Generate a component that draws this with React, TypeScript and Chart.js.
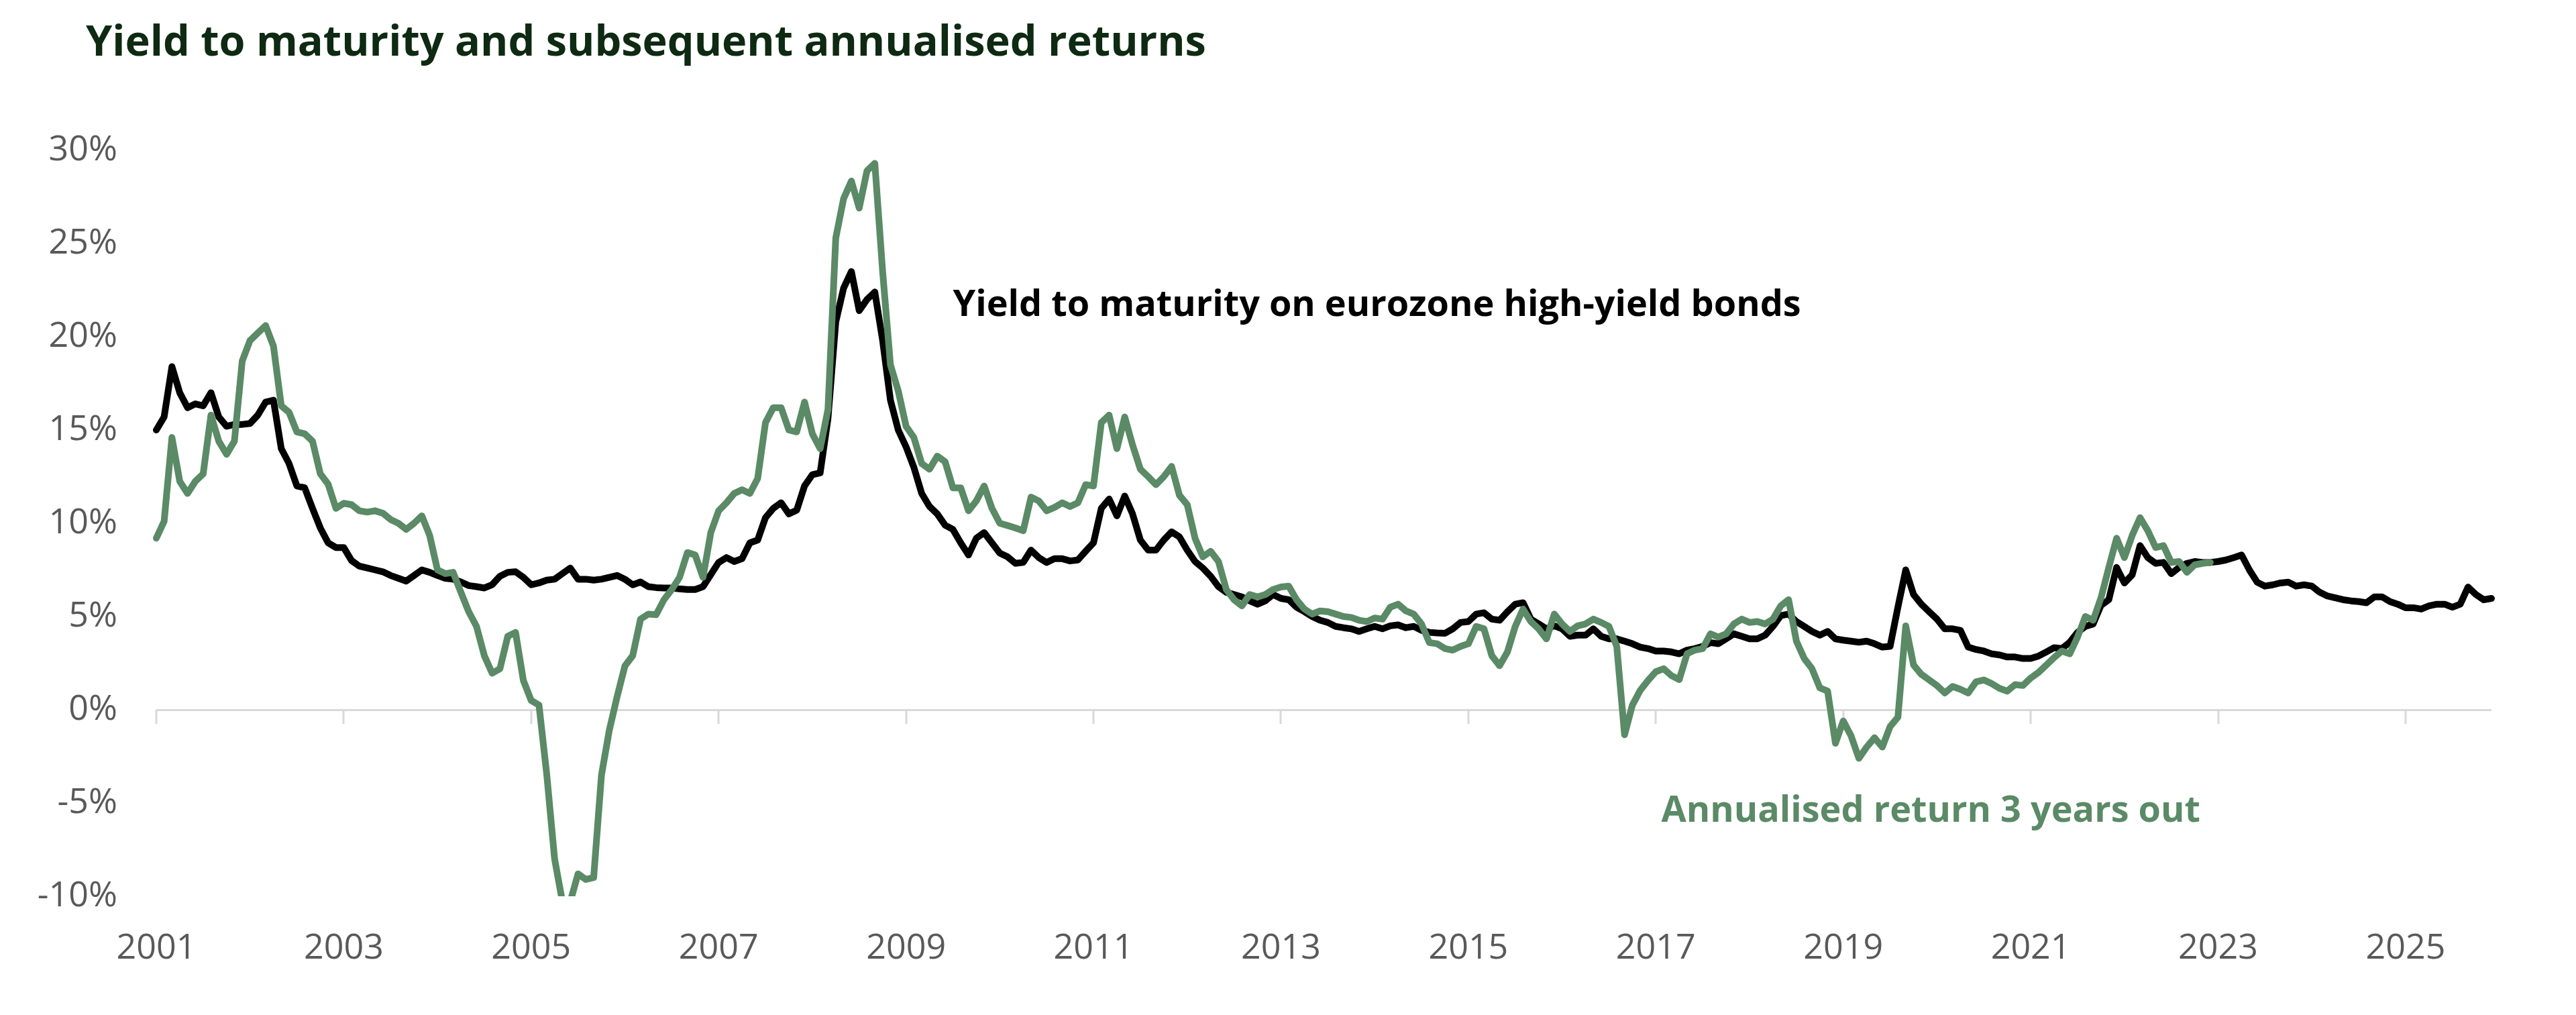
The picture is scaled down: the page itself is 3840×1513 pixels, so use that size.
import React, { useEffect, useRef } from "react";
import { Chart, registerables } from "chart.js";

Chart.register(...registerables);

// Monthly observations, January 2001 onwards
const START_YEAR = 2001;
const MONTH_COUNT = 300;

// Yield to maturity on eurozone high-yield bonds (%), Jan 2001 - Dec 2025
const yieldToMaturity = [
  15.0, 15.7, 18.4, 17.0, 16.2, 16.4, 16.3, 17.0, 15.7, 15.2,
  15.3, 15.3, 15.35, 15.8, 16.5, 16.6, 14.0, 13.2, 12.0, 11.9,
  10.8, 9.75, 8.95, 8.7, 8.7, 8.0, 7.7, 7.6, 7.5, 7.4,
  7.2, 7.05, 6.9, 7.2, 7.5, 7.37, 7.2, 7.05, 7.0, 6.85,
  6.66, 6.6, 6.53, 6.7, 7.16, 7.37, 7.4, 7.1, 6.7, 6.8,
  6.95, 7.0, 7.3, 7.6, 7.0, 7.0, 6.95, 7.0, 7.1, 7.2,
  7.0, 6.7, 6.85, 6.6, 6.55, 6.53, 6.53, 6.48, 6.45, 6.45,
  6.6, 7.25, 7.9, 8.16, 7.95, 8.1, 8.95, 9.1, 10.3, 10.8,
  11.1, 10.5, 10.7, 12.0, 12.6, 12.7, 15.6, 20.8, 22.6, 23.5,
  21.4, 22.0, 22.4, 19.8, 16.6, 15.0, 14.1, 13.0, 11.6, 10.9,
  10.5, 9.9, 9.67, 8.95, 8.3, 9.2, 9.5, 8.95, 8.4, 8.2,
  7.85, 7.9, 8.56, 8.16, 7.9, 8.1, 8.1, 7.98, 8.03, 8.5,
  8.95, 10.8, 11.3, 10.4, 11.46, 10.5, 9.1, 8.56, 8.56, 9.1,
  9.54, 9.27, 8.56, 7.95, 7.6, 7.16, 6.6, 6.3, 6.18, 6.05,
  5.84, 5.66, 5.84, 6.18, 5.97, 5.9, 5.5, 5.26, 5.0, 4.8,
  4.68, 4.47, 4.4, 4.34, 4.2, 4.34, 4.47, 4.34, 4.5, 4.55,
  4.4, 4.47, 4.26, 4.15, 4.12, 4.1, 4.34, 4.68, 4.73, 5.13,
  5.2, 4.86, 4.8, 5.26, 5.66, 5.74, 4.86, 4.6, 4.34, 4.5,
  4.34, 3.94, 4.0, 4.0, 4.34, 3.94, 3.8, 3.8, 3.68, 3.54,
  3.36, 3.28, 3.15, 3.15, 3.1, 3.0, 3.2, 3.28, 3.4, 3.6,
  3.54, 3.8, 4.07, 3.94, 3.8, 3.8, 4.0, 4.47, 5.05, 5.13,
  4.73, 4.47, 4.2, 4.0, 4.2, 3.8, 3.73, 3.68, 3.62, 3.68,
  3.54, 3.36, 3.4, 5.5, 7.5, 6.18, 5.66, 5.26, 4.86, 4.34,
  4.34, 4.26, 3.36, 3.23, 3.15, 3.0, 2.94, 2.83, 2.83, 2.75,
  2.75, 2.88, 3.1, 3.33, 3.28, 3.62, 4.15, 4.47, 4.6, 5.6,
  5.9, 7.63, 6.8, 7.24, 8.8, 8.16, 7.85, 7.9, 7.3, 7.63,
  7.85, 7.95, 7.9, 7.9, 7.95, 8.03, 8.16, 8.3, 7.5, 6.84,
  6.63, 6.7, 6.8, 6.84, 6.63, 6.7, 6.63, 6.3, 6.1, 6.0,
  5.9, 5.84, 5.8, 5.74, 6.05, 6.05, 5.8, 5.66, 5.47, 5.47,
  5.4, 5.57, 5.66, 5.66, 5.5, 5.66, 6.58, 6.18, 5.9, 5.97,
];

// Annualised return over the following 3 years (%), Jan 2001 - Dec 2022
const annualisedReturn3y = [
  9.2, 10.1, 14.6, 12.25, 11.6, 12.25, 12.65, 15.8, 14.4, 13.7,
  14.4, 18.7, 19.8, 20.2, 20.6, 19.5, 16.3, 15.95, 14.9, 14.8,
  14.4, 12.65, 12.1, 10.8, 11.07, 11.0, 10.67, 10.6, 10.67, 10.54,
  10.2, 10.0, 9.67, 10.0, 10.4, 9.35, 7.5, 7.3, 7.37, 6.3,
  5.26, 4.47, 2.9, 1.96, 2.2, 3.94, 4.15, 1.57, 0.5, 0.25,
  -3.5, -8.0, -10.3, -10.3, -8.8, -9.1, -9.0, -3.5, -1.1, 0.7,
  2.35, 2.9, 4.86, 5.13, 5.1, 5.9, 6.45, 7.1, 8.43, 8.3,
  7.1, 9.5, 10.67, 11.1, 11.6, 11.8, 11.6, 12.4, 15.4, 16.2,
  16.2, 15.0, 14.9, 16.5, 14.8, 14.0, 16.1, 25.3, 27.4, 28.35,
  26.9, 28.9, 29.3, 23.5, 18.5, 17.1, 15.2, 14.6, 13.2, 12.9,
  13.6, 13.3, 11.9, 11.9, 10.67, 11.2, 12.0, 10.8, 10.0, 9.88,
  9.75, 9.6, 11.4, 11.2, 10.67, 10.85, 11.1, 10.9, 11.1, 12.07,
  12.0, 15.4, 15.8, 14.0, 15.7, 14.2, 12.9, 12.5, 12.07, 12.5,
  13.05, 11.5, 11.0, 9.2, 8.2, 8.5, 7.95, 6.45, 5.9, 5.57,
  6.18, 6.05, 6.18, 6.45, 6.58, 6.63, 5.9, 5.4, 5.13, 5.3,
  5.26, 5.13, 5.0, 4.95, 4.8, 4.73, 4.92, 4.86, 5.5, 5.66,
  5.3, 5.13, 4.6, 3.6, 3.54, 3.28, 3.2, 3.4, 3.54, 4.47,
  4.34, 2.9, 2.36, 3.1, 4.47, 5.4, 4.73, 4.34, 3.8, 5.13,
  4.6, 4.2, 4.5, 4.6, 4.86, 4.68, 4.47, 3.4, -1.34, 0.25,
  1.04, 1.57, 2.04, 2.2, 1.83, 1.62, 3.0, 3.2, 3.28, 4.07,
  3.9, 4.07, 4.6, 4.86, 4.68, 4.73, 4.6, 4.86, 5.57, 5.9,
  3.68, 2.75, 2.2, 1.17, 1.0, -1.8, -0.6, -1.4, -2.6, -2.0,
  -1.5, -2.0, -0.9, -0.4, 4.5, 2.4, 1.9, 1.6, 1.3, 0.9,
  1.25, 1.1, 0.9, 1.5, 1.6, 1.4, 1.15, 1.0, 1.35, 1.3,
  1.7, 2.0, 2.4, 2.8, 3.15, 3.0, 3.9, 5.0, 4.8, 6.0,
  7.63, 9.2, 8.16, 9.35, 10.3, 9.6, 8.7, 8.8, 7.9, 7.95,
  7.37, 7.77, 7.85, 7.9,
];

// Axis ticks
const yTickValues = [-10, -5, 0, 5, 10, 15, 20, 25, 30];
const xTickYears = [2001, 2003, 2005, 2007, 2009, 2011, 2013, 2015, 2017, 2019, 2021, 2023, 2025];

// Texts
const TITLE = "Yield to maturity and subsequent annualised returns";
const YIELD_LABEL = "Yield to maturity on eurozone high-yield bonds";
const RETURN_LABEL = "Annualised return 3 years out";

const months = Array.from({ length: MONTH_COUNT }, (_, i) =>
  `${START_YEAR + Math.floor(i / 12)}-${String((i % 12) + 1).padStart(2, "0")}`
);

const GREEN = "#5b8a66";
const FONT = '"Open Sans", "Noto Sans", sans-serif';

const isYearTick = (index: number) =>
  index % 12 === 0 && xTickYears.includes(START_YEAR + index / 12);

const decorPlugin = {
  id: "decor",
  beforeDatasetsDraw(chart: any) {
    const { ctx, scales } = chart;
    const x = scales.x;
    const y0 = scales.y.getPixelForValue(0);
    ctx.save();
    ctx.strokeStyle = "#d9d9d9";
    ctx.lineWidth = 3;
    xTickYears.forEach((yr) => {
      const idx = (yr - START_YEAR) * 12;
      const px = Math.round(x.getPixelForValue(idx));
      ctx.beginPath();
      ctx.moveTo(px, y0);
      ctx.lineTo(px, y0 + 21);
      ctx.stroke();
    });
    ctx.restore();
  },
  afterDraw(chart: any) {
    const { ctx, scales } = chart;
    const x = scales.x;
    const y = scales.y;
    ctx.save();
    ctx.textBaseline = "alphabetic";
    ctx.textAlign = "left";
    ctx.fillStyle = "#0e2a12";
    ctx.font = `bold 63px ${FONT}`;
    ctx.fillText(TITLE, 128, 83);

    ctx.font = `bold 54px ${FONT}`;
    ctx.fillStyle = "#000000";
    ctx.fillText(YIELD_LABEL, x.getPixelForValue(102), y.getPixelForValue(21.1));
    ctx.fillStyle = GREEN;
    ctx.fillText(RETURN_LABEL, x.getPixelForValue(192.7), y.getPixelForValue(-6.0));
    ctx.restore();
  },
};

export default function App() {
  const canvasRef = useRef<HTMLCanvasElement | null>(null);

  useEffect(() => {
    document.body.style.margin = "0";
    document.body.style.overflow = "hidden";
    const canvas = canvasRef.current;
    if (!canvas) return;

    const chart = new Chart(canvas, {
      type: "line",
      data: {
        labels: months,
        datasets: [
          {
            label: RETURN_LABEL,
            data: annualisedReturn3y,
            borderColor: GREEN,
            backgroundColor: GREEN,
            borderWidth: 10,
            pointRadius: 0,
            tension: 0,
            borderJoinStyle: "round",
            borderCapStyle: "round",
          },
          {
            label: YIELD_LABEL,
            data: yieldToMaturity,
            borderColor: "#000000",
            backgroundColor: "#000000",
            borderWidth: 10,
            pointRadius: 0,
            tension: 0,
            borderJoinStyle: "round",
            borderCapStyle: "round",
          },
        ],
      },
      options: {
        animation: false,
        responsive: true,
        maintainAspectRatio: false,
        devicePixelRatio: 1,
        layout: { padding: { top: 224, right: 126, bottom: 0, left: 0 } },
        plugins: {
          legend: { display: false },
          title: { display: false },
          tooltip: { enabled: false },
        },
        scales: {
          x: {
            type: "category",
            offset: false,
            afterFit: (scale: any) => {
              scale.height = 177;
            },
            grid: { display: false, drawTicks: false },
            border: { display: false },
            ticks: {
              autoSkip: false,
              maxRotation: 0,
              minRotation: 0,
              padding: 47,
              color: "#595959",
              font: { family: FONT, size: 52 },
              callback: (_v: any, index: number) =>
                isYearTick(index) ? String(START_YEAR + index / 12) : "",
            },
          },
          y: {
            min: -10,
            max: 30,
            afterFit: (scale: any) => {
              scale.width = 233;
            },
            afterBuildTicks: (scale: any) => {
              scale.ticks = yTickValues.map((v) => ({ value: v }));
            },
            grid: {
              drawTicks: false,
              lineWidth: 3,
              color: (c: any) =>
                c.tick && c.tick.value === 0 ? "#d9d9d9" : "rgba(0,0,0,0)",
            },
            border: { display: false },
            ticks: {
              padding: 58,
              color: "#595959",
              font: { family: FONT, size: 52 },
              callback: (v: any) => `${v}%`,
            },
          },
        },
      },
      plugins: [decorPlugin],
    });

    return () => {
      chart.destroy();
    };
  }, []);

  return (
    <div style={{ position: "relative", width: "3840px", height: "1513px", background: "#ffffff" }}>
      <canvas ref={canvasRef} />
    </div>
  );
}
